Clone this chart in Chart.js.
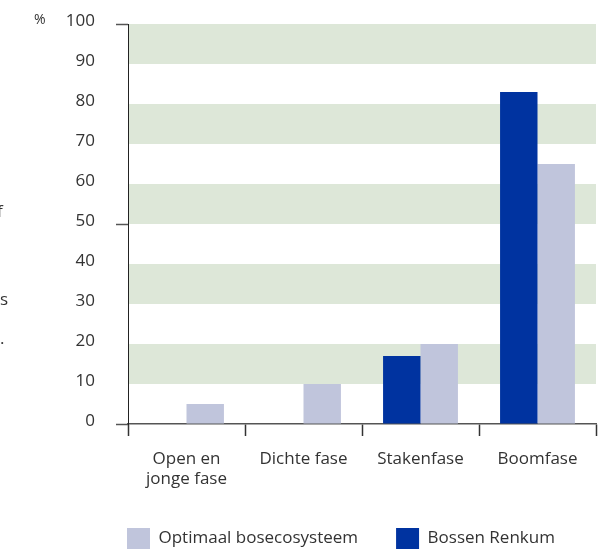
<!DOCTYPE html>
<html>
<head>
<meta charset="utf-8">
<script src="https://cdn.jsdelivr.net/npm/chart.js@4"></script>
<style>
    html, body { margin: 0; padding: 0; background: #fff; }
    #wrap { width: 607px; height: 549px; }
</style>
</head>
<body>
<div id="wrap"><canvas id="chart-canvas"></canvas></div>
<script>
// Chart values
const categories = [['Open en', 'jonge fase'], 'Dichte fase', 'Stakenfase', 'Boomfase'];
const bossenRenkum = [0, 0, 17, 83];
const optimaalBosecosysteem = [5, 10, 20, 65];
const yMin = 0;
const yMax = 100;
const yStep = 10;
const majorTicks = [0, 50, 100];
// Green background bands (value ranges)
const bandRanges = [[10, 20], [30, 40], [50, 60], [70, 80], [90, 100]];
// Clipped text fragments visible at the left page edge
const edgeFragments = [['f', -3, 217], ['s', 0, 305], ['.', 0, 344]];

const textColor = '#333333';
const fontFamily = '"Open Sans", "Noto Sans", sans-serif';

// Draws the alternating green bands behind the bars
const bandsPlugin = {
    id: 'bands',
    beforeDatasetsDraw(chart) {
        const { ctx, chartArea, scales } = chart;
        ctx.save();
        ctx.fillStyle = '#dde7d8';
        bandRanges.forEach(([from, to]) => {
            const top = scales.y.getPixelForValue(to);
            const bottom = scales.y.getPixelForValue(from);
            ctx.fillRect(chartArea.left + 1, top, chartArea.right - chartArea.left - 1, bottom - top);
        });
        ctx.restore();
    }
};

// Moves the legend to where it sits in the reference (below the x labels, left-ish)
// and lets the two-line x labels draw past the x scale box
const legendPlacePlugin = {
    id: 'legendPlace',
    afterLayout(chart) {
        const legend = chart.legend;
        if (legend) {
            legend.top += 10;
            legend.bottom += 10;
            legend.left = 89;
        }
        chart.scales.x.bottom += 50;
    }
};

// Unit label and the stray text at the page edge
const extrasPlugin = {
    id: 'extras',
    afterDraw(chart) {
        const { ctx, scales } = chart;
        ctx.save();
        ctx.fillStyle = textColor;
        ctx.font = '14px ' + fontFamily;
        ctx.textBaseline = 'middle';
        ctx.fillText('%', 34, scales.y.getPixelForValue(yMax) - 4);
        ctx.font = '17px ' + fontFamily;
        ctx.textBaseline = 'alphabetic';
        edgeFragments.forEach(([t, x, y]) => ctx.fillText(t, x, y));
        ctx.restore();
    }
};

const ctx = document.getElementById('chart-canvas');

const chart = new Chart(ctx, {
    type: 'bar',
    data: {
        labels: categories,
        datasets: [
            {
                label: 'Bossen Renkum',
                data: bossenRenkum,
                backgroundColor: '#0033a0'
            },
            {
                label: 'Optimaal bosecosysteem',
                data: optimaalBosecosysteem,
                backgroundColor: '#c0c5dc'
            }
        ]
    },
    options: {
        responsive: true,
        maintainAspectRatio: false,
        animation: false,
        layout: {
            padding: { top: 24, right: 11, bottom: 0, left: 0 }
        },
        datasets: {
            bar: {
                categoryPercentage: 0.64,
                barPercentage: 1.0,
                borderWidth: 0
            }
        },
        plugins: {
            tooltip: { enabled: false },
            legend: {
                display: true,
                position: 'bottom',
                align: 'start',
                reverse: true,
                labels: {
                    boxWidth: 23,
                    boxHeight: 21,
                    padding: 38,
                    color: textColor,
                    font: { family: fontFamily, size: 17 }
                }
            }
        },
        scales: {
            x: {
                grid: {
                    offset: true,
                    drawOnChartArea: false,
                    drawTicks: true,
                    tickLength: 12,
                    tickColor: '#333',
                    tickWidth: 1.5
                },
                border: { color: '#555', width: 1.5 },
                ticks: {
                    color: textColor,
                    padding: 13,
                    maxRotation: 0,
                    autoSkip: false,
                    font: { family: fontFamily, size: 17 }
                },
                afterFit(scale) {
                    scale.height = 56;
                }
            },
            y: {
                min: yMin,
                max: yMax,
                grid: {
                    drawOnChartArea: false,
                    drawTicks: true,
                    tickLength: 12,
                    tickWidth: 1.5,
                    tickColor: c => majorTicks.includes(c.tick.value) ? '#555' : 'transparent'
                },
                border: { color: '#222', width: 1 },
                ticks: {
                    stepSize: yStep,
                    color: textColor,
                    padding: 21,
                    labelOffset: -3,
                    font: { family: fontFamily, size: 17 }
                },
                afterFit(scale) {
                    scale.width = 128;
                    scale.paddingTop = 0;
                    scale.paddingBottom = 0;
                }
            }
        }
    },
    plugins: [bandsPlugin, legendPlacePlugin, extrasPlugin]
});
</script>
</body>
</html>
